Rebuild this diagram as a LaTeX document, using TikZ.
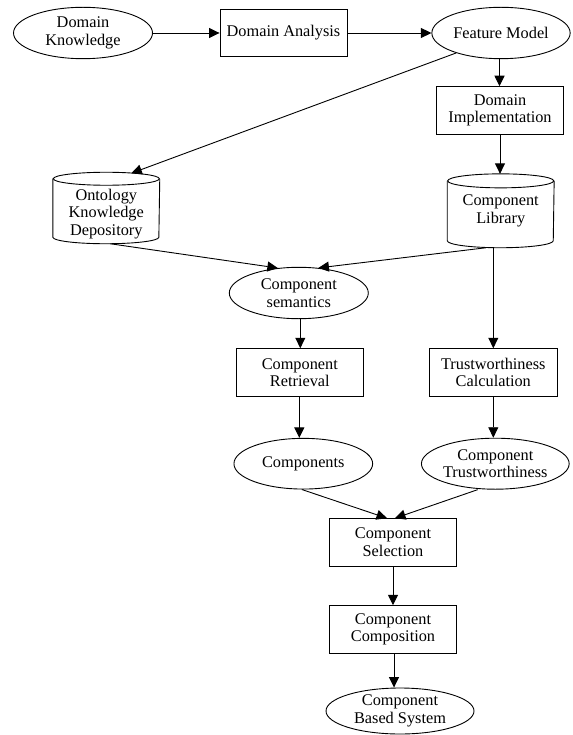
\documentclass[tikz,border=0pt]{standalone}
\usepackage{fontspec}
\setmainfont{Liberation Serif}
\usetikzlibrary{shapes.geometric,arrows.meta}
\tikzset{
  base/.style={font=\fontsize{16.3}{17.4}\selectfont, align=center, inner sep=0pt, line width=0.9pt},
  ell/.style={base, draw, ellipse},
  box/.style={base, draw, rectangle},
  cyl/.style={base, rectangle, minimum width=106pt},
  arr/.style={line width=0.9pt, -{Triangle[length=10.5pt,width=10pt]}},
  ln/.style={line width=0.9pt}
}
\begin{document}
\begin{tikzpicture}[x=1pt,y=1pt]
\useasboundingbox (0,0) rectangle (572,-735);
% nodes
\node[ell, minimum width=139pt, minimum height=51.4pt] (dk) at (83,-33) {Domain\\Knowledge};
\node[box, minimum width=127pt, minimum height=47.5pt] (da) at (283.5,-33) {Domain Analysis};
\node[ell, minimum width=138.3pt, minimum height=51.4pt] (fm) at (501,-33) {Feature Model};
\node[box, minimum width=127.7pt, minimum height=47.6pt] (di) at (500,-110.5) {Domain\\Implementation};
% cylinders (invisible frames)
\node[cyl, minimum height=70.6pt] (ont) at (106.3,-208) {};
\node[cyl, minimum height=73pt] (cl) at (500.7,-210.8) {};
\draw[ln] ([yshift=-6.5pt]ont.north west) -- ([yshift=6.5pt]ont.south west)
  arc[start angle=180,end angle=360,x radius=53pt,y radius=6.5pt] -- ([yshift=-6.5pt]ont.north east);
\draw[ln] ([yshift=-6.5pt]ont.north) ellipse[x radius=53pt,y radius=6.5pt];
\draw[ln] ([yshift=-7pt]cl.north west) -- ([yshift=7pt]cl.south west)
  arc[start angle=180,end angle=360,x radius=53pt,y radius=7pt] -- ([yshift=-7pt]cl.north east);
\draw[ln] ([yshift=-7pt]cl.north) ellipse[x radius=53pt,y radius=7pt];
\node[base] (ontt) at ([yshift=-6pt]ont.center) {Ontology\\Knowledge\\Depository};
\node[base] (clt) at (cl.center) {Component\\Library};
\node[ell, minimum width=139pt, minimum height=51.4pt] (sem) at (298.8,-293) {Component\\semantics};
\node[box, minimum width=127.7pt, minimum height=48pt] (ret) at (299.8,-372.7) {Component\\Retrieval};
\node[box, minimum width=128pt, minimum height=48pt] (tc) at (493.3,-372.7) {Trustworthiness\\Calculation};
\node[ell, minimum width=138.7pt, minimum height=50.7pt] (comps) at (303.3,-463.7) {Components};
\node[ell, minimum width=134pt, minimum height=51pt] (ct) at (495.3,-463.7) {Component\\Trustworthiness};
\node[box, minimum width=127.3pt, minimum height=47.3pt] (sel) at (393,-542.3) {Component\\Selection};
\node[box, minimum width=127.3pt, minimum height=47.6pt] (comp) at (393,-629.5) {Component\\Composition};
\node[ell, minimum width=148pt, minimum height=46pt] (cbs) at (400,-711) {Component\\Based System};
% connectors
\draw[arr] (dk) -- (da);
\draw[arr] (da) -- (fm);
\draw[arr] ([xshift=-1.5pt]fm.south) -- ([xshift=-1.5pt]fm.south |- di.north);
\draw[arr] (fm.204) -- ([xshift=25pt,yshift=-1pt]ont.north);
\draw[arr] (di.south) -- (di.south |- cl.north);
\draw[arr] ([xshift=4pt]ont.south) -- (sem.130);
\draw[arr] ([xshift=-14.7pt]cl.south) -- (sem.52);
\draw[arr] (tc.north |- cl.south) -- (tc.north);
\draw[arr] ([xshift=1.5pt]sem.south) -- ([xshift=1.5pt]sem.south |- ret.north);
\draw[arr] ([xshift=-0.5pt]ret.south) -- ([xshift=-0.5pt]ret.south |- comps.north);
\draw[arr] (tc.south) -- (tc.south |- ct.north);
\draw[arr] ([xshift=-1.5pt]comps.south) -- ([xshift=-6pt]sel.north);
\draw[arr] ([xshift=-17.6pt]ct.south) -- ([xshift=2pt]sel.north);
\draw[arr] (sel.south) -- (comp.north);
\draw[arr] ([xshift=1pt]comp.south) -- ([xshift=1pt]comp.south |- cbs.north);
\end{tikzpicture}
\end{document}
